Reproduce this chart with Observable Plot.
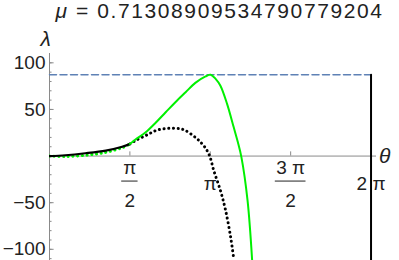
<!DOCTYPE html>
<html><head><meta charset="utf-8">
<script src="https://cdn.jsdelivr.net/npm/d3@7"></script>
<script src="https://cdn.jsdelivr.net/npm/@observablehq/plot@0.6"></script>
<style>
body{margin:0;background:#fff;font-family:"Liberation Sans",Arial,sans-serif;}
#title{height:22px;line-height:22px;text-align:center;font-size:21px;letter-spacing:1.6px;color:#222;width:399px;padding-left:40px;box-sizing:border-box;white-space:nowrap;}
</style></head><body>
<div id="title"><i>μ</i> = 0.71308909534790779204</div>
<div id="chart"></div>
<script>
// Data
const greenSolidTheta = [1.571, 1.68, 1.88, 2.07, 2.27, 2.46, 2.66, 2.85, 3.05, 3.15, 3.25, 3.34, 3.47, 3.60, 3.68, 3.75, 3.87, 3.96];
const greenSolidLambda = [13, 17.7, 25.5, 35.5, 47, 57.8, 68.5, 78.5, 85.4, 87.3, 82.5, 75.5, 56, 30.8, 15, -1.2, -47.6, -112];
const greenDotTheta = [0, 0.3, 0.7, 1.1, 1.42, 1.571];
const greenDotLambda = [0, -0.5, 0.8, 4, 9, 13];
const blackSolidTheta = [0, 0.31, 0.7, 1.1, 1.42, 1.571];
const blackSolidLambda = [0, 0.9, 3, 5.9, 10, 13];
const blackDotTheta = [1.571, 1.68, 1.88, 2.14, 2.53, 2.66, 2.85, 2.95, 3.05, 3.13, 3.21, 3.34, 3.44, 3.54, 3.60];
const blackDotLambda = [13, 16.6, 22, 28.4, 29.5, 27.3, 20, 15, 8.5, 0, -15.5, -37, -58, -87, -110];
const dashTheta = [0, 2 * Math.PI];
const dashLambda = [87.3, 87.3];
const vertTheta = [2 * Math.PI, 2 * Math.PI];
const vertLambda = [87.3, -130];
const xTickValues = [Math.PI / 2, Math.PI, 3 * Math.PI / 2, 2 * Math.PI];
const xTickNum = ["π", "π", "3 π", "2 π"];
const xTickDen = ["2", "", "2", ""];
const yTickValues = [100, 50, -50, -100];
const yTickLabels = ["100", "50", "−50", "−100"];
const yMinorTicks = d3.range(-110, 101, 10);

const zip = (a, b) => a.map((v, i) => ({t: v, l: b[i]}));
const xt = xTickValues.map((v, i) => ({v, num: xTickNum[i], den: xTickDen[i]}));
const xFrac = xt.filter(d => d.den !== "");
const xSingle = xt.filter(d => d.den === "");
const yt = yTickValues.map((v, i) => ({v, s: yTickLabels[i]}));
const axisColor = "#8a8a8a";
const textColor = "#222";

const chart = Plot.plot({
  width: 399, height: 238,
  marginTop: 31, marginBottom: 0, marginLeft: 49, marginRight: 23,
  x: {domain: [0, 6.39], axis: null},
  y: {domain: [-112, 110], axis: null},
  style: {fontFamily: "Liberation Sans, Arial, sans-serif", background: "white", overflow: "visible"},
  marks: [
    Plot.ruleY([0], {stroke: axisColor, strokeWidth: 1}),
    Plot.ruleX([0], {stroke: axisColor, strokeWidth: 1}),
    Plot.ruleX(xTickValues, {x: d => d, y1: () => 0, y2: () => 4.5, stroke: axisColor}),
    Plot.ruleY(yMinorTicks, {y: d => d, x1: () => 0, x2: () => 0.05, stroke: axisColor}),
    Plot.ruleY(yTickValues, {y: d => d, x1: () => 0, x2: () => 0.09, stroke: axisColor}),
    Plot.text(yt, {x: () => 0, y: "v", text: "s", textAnchor: "end", dx: -4, fontSize: 19, fill: textColor}),
    Plot.text(xFrac, {x: "v", y: () => 0, text: "num", dy: 12, fontSize: 19, fill: textColor}),
    Plot.ruleY(xFrac, {y: () => 0, x1: d => d.v - (0.09 + 0.07 * d.num.length), x2: d => d.v + (0.09 + 0.07 * d.num.length), dy: 25, stroke: textColor, strokeWidth: 1}),
    Plot.text(xFrac, {x: "v", y: () => 0, text: "den", dy: 45, fontSize: 19, fill: textColor}),
    Plot.text(xSingle, {x: "v", y: () => 0, text: "num", dy: 28, fontSize: 19, fill: textColor}),
    Plot.text(["λ"], {frameAnchor: "top-left", dx: -9, dy: -22, fontSize: 21, fontStyle: "italic", fill: textColor}),
    Plot.text([{s: "θ", v: 0}], {y: "v", text: "s", frameAnchor: "right", dx: 14, fontSize: 21, fontStyle: "italic", fill: textColor}),
    Plot.line(zip(dashTheta, dashLambda), {x: "t", y: "l", stroke: "#5e81b5", strokeWidth: 1.5, strokeDasharray: "7,3.5"}),
    Plot.line(zip(greenDotTheta, greenDotLambda), {x: "t", y: "l", curve: "catmull-rom", stroke: "#00f000", strokeWidth: 3, strokeDasharray: "0.1,4.6", strokeLinecap: "round", clip: true}),
    Plot.line(zip(blackSolidTheta, blackSolidLambda), {x: "t", y: "l", curve: "catmull-rom", stroke: "#000", strokeWidth: 2.2, clip: true}),
    Plot.line(zip(blackDotTheta, blackDotLambda), {x: "t", y: "l", curve: "catmull-rom", stroke: "#000", strokeWidth: 3, strokeDasharray: "0.1,4.6", strokeLinecap: "round", clip: true}),
    Plot.line(zip(greenSolidTheta, greenSolidLambda), {x: "t", y: "l", curve: "catmull-rom", stroke: "#00f000", strokeWidth: 2, clip: true}),
    Plot.line(zip(vertTheta, vertLambda), {x: "t", y: "l", stroke: "#000", strokeWidth: 2, clip: true})
  ]
});
document.getElementById("chart").appendChild(chart);
</script>
</body></html>
